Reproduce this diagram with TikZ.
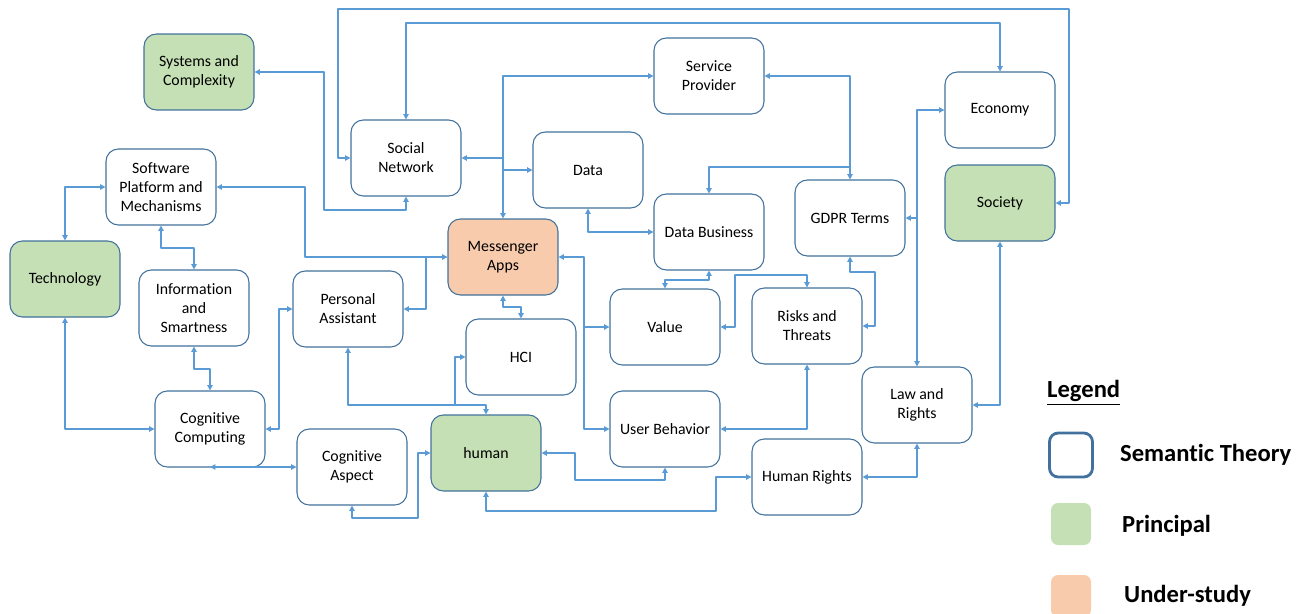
\documentclass[tikz,border=0pt]{standalone}
\usepackage{fontspec}
\setmainfont{Carlito}[Ligatures=NoCommon]
\usepackage{tikz}
\usetikzlibrary{arrows.meta}
\definecolor{boxline}{HTML}{41719C}
\definecolor{linkblue}{HTML}{5B9BD5}
\definecolor{principal}{HTML}{C5E0B4}
\definecolor{understudy}{HTML}{F8CBAD}
\tikzstyle{theory} = [draw=boxline, line width=0.6pt, fill=white, rounded corners=7pt,
  minimum width=2.2cm, minimum height=1.52cm, inner sep=1pt, align=center,
  font=\fontsize{9}{10.8}\selectfont]
\tikzstyle{princ} = [theory, fill=principal]
\tikzstyle{study} = [theory, fill=understudy]
\tikzstyle{link} = [<->, draw=linkblue, line width=0.65pt]
\tikzstyle{branch} = [->, draw=linkblue, line width=0.65pt]
\tikzstyle{legtext} = [anchor=west, font=\fontsize{14}{16}\selectfont\bfseries]

\begin{document}
\begin{tikzpicture}[line cap=round, line join=round, >={Triangle[length=3pt,width=3pt]}, x=0.02cm, y=-0.02cm]
  \useasboundingbox (0,0) rectangle (1309,613);
  % boxes
  \node[princ] (sys) at (199,72) {Systems and\\Complexity};
  \node[theory] (social) at (406,158) {Social\\Network};
  \node[theory] (service) at (709,76) {Service\\Provider};
  \node[theory] (economy) at (1000,110) {Economy};
  \node[theory] (data) at (588,170) {Data};
  \node[theory] (software) at (161,187) {Software\\Platform and\\Mechanisms};
  \node[theory] (databiz) at (709,232) {Data Business};
  \node[theory] (gdpr) at (850,218) {GDPR Terms};
  \node[princ] (society) at (1000,203) {Society};
  \node[princ] (tech) at (65,279) {Technology};
  \node[study] (messenger) at (503,257) {Messenger\\Apps};
  \node[theory] (info) at (194,308) {Information\\and\\Smartness};
  \node[theory] (pa) at (348,309) {Personal\\Assistant};
  \node[theory] (hci) at (521,357) {HCI};
  \node[theory] (value) at (665,327) {Value};
  \node[theory] (risks) at (807,326) {Risks and\\Threats};
  \node[theory] (law) at (917,405) {Law and\\Rights};
  \node[theory] (cogcomp) at (210,429) {Cognitive\\Computing};
  \node[theory] (userbeh) at (665,429) {User Behavior};
  \node[theory] (cogasp) at (352,467) {Cognitive\\Aspect};
  \node[princ] (human) at (486,453) {human};
  \node[theory] (hrights) at (807,477) {Human Rights};

  % connectors
  \draw[link] (sys.east) -| (324,210) -| (social.south);
  \draw[link] (social.west) -| (338,9) -| (1069,203) -- (society.east);
  \draw[link] (social.north) |- (1000,23) -- (economy.north);
  \draw[link] (messenger.north) |- (service.west);
  \draw[branch] (social.east -| messenger.north) -- (social.east);
  \draw[branch] (data.west -| messenger.north) -- (data.west);
  \draw[link] (service.east) -| (gdpr.north);
  \draw[branch] (850,167) -| (databiz.north);
  \draw[link] (economy.west) -| (law.north);
  \draw[branch] (law.north |- gdpr.east) -- (gdpr.east);
  \draw[link] (society.south) |- (law.east);
  \draw[link] (tech.north) |- (software.west);
  \draw[link] (software.east) -| (305,257) -- (messenger.west);
  \draw[branch] (426,257) |- (pa.east);
  \draw[link] (software.south) |- (194,248) -- (info.north);
  \draw[link] (info.south) |- (210,369) -- (cogcomp.north);
  \draw[link] (tech.south) |- (cogcomp.west);
  \draw[link] (cogcomp.east) -| (279,309) -- (pa.west);
  \draw[link] (cogasp.west) -- (cogasp.west -| cogcomp.south);
  \draw[link] (pa.south) |- (486,405) -- (human.north);
  \draw[branch] (455,405) |- (hci.west);
  \draw[link] (messenger.south) |- (521,307) -- (hci.north);
  \draw[link] (messenger.east) -| (584,429) -- (userbeh.west);
  \draw[branch] (584,327) -- (value.west);
  \draw[link] (data.south) |- (databiz.west);
  \draw[link] (databiz.south) |- (665,280) -- (value.north);
  \draw[link] (value.east) -| (735,275) -| (risks.north);
  \draw[link] (gdpr.south) |- (875,272) |- (risks.east);
  \draw[link] (risks.south) |- (userbeh.east);
  \draw[link] (human.east) -| (575,480) -| (userbeh.south);
  \draw[link] (cogasp.south) |- (418,518) |- (human.west);
  \draw[link] (human.south) |- (716,511) |- (hrights.west);
  \draw[link] (hrights.east) -| (law.south);

  % legend
  \node[legtext] (legend) at (1041,393) {\underline{Legend}};
  \node[draw=boxline, line width=1.6pt, rounded corners=5pt, minimum width=0.86cm, minimum height=0.88cm] (legtheory) at (1071,455) {};
  \node[legtext] (legtheorytext) at (1114,455) {Semantic Theory};
  \node[fill=principal, rounded corners=4pt, minimum width=0.8cm, minimum height=0.84cm] (legprinc) at (1071,524) {};
  \node[legtext] (legprinctext) at (1116,526) {Principal};
  \node[fill=understudy, rounded corners=4pt, minimum width=0.8cm, minimum height=0.84cm] (legstudy) at (1071,596) {};
  \node[legtext] (legstudytext) at (1118,596) {Under-study};
\end{tikzpicture}
\end{document}
